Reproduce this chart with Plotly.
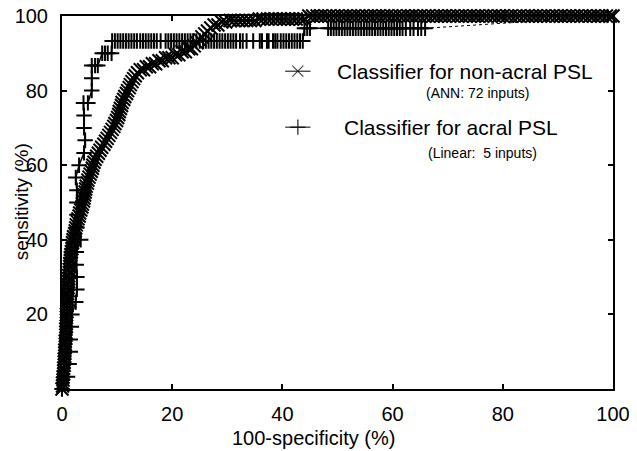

# ROC curves - classifier for non-acral PSL (ANN) vs acral PSL (linear)
# values, in percent
##############################################################

import plotly.graph_objects as go

# ANN classifier (non-acral), steep lower part
ann_fpr_low = [0.0, 0.1, 0.1, 0.2, 0.2, 0.3, 0.3, 0.3, 0.4, 0.4,
               0.4, 0.5, 0.5, 0.5, 0.6, 0.6, 0.6, 0.7, 0.7, 0.7,
               0.7, 0.8, 0.8, 0.8, 0.8, 0.8, 0.9, 0.9, 0.9, 0.9,
               1.0, 1.0, 1.0, 1.1, 1.1, 1.1, 1.2, 1.2, 1.2, 1.3,
               1.3, 1.4, 1.4, 1.5, 1.5, 1.6, 1.7, 1.8, 1.8, 1.9,
               2.0, 2.1, 2.3, 2.4, 2.5, 2.6, 2.8, 2.9, 3.1, 3.2,
               3.4, 3.6, 3.7, 3.9, 4.0, 4.1, 4.2, 4.3, 4.4, 4.6,
               4.7, 4.9, 5.1, 5.3]
ann_tpr_low = [0.0, 0.8, 1.6, 2.4, 3.2, 4.0, 4.8, 5.6, 6.4, 7.2,
               8.0, 8.8, 9.6, 10.4, 11.2, 12.0, 12.8, 13.6, 14.4, 15.2,
               16.0, 16.8, 17.6, 18.4, 19.2, 20.0, 20.8, 21.6, 22.4, 23.2,
               24.0, 24.8, 25.6, 26.4, 27.2, 28.0, 28.8, 29.6, 30.4, 31.2,
               32.0, 32.8, 33.6, 34.4, 35.2, 36.0, 36.8, 37.6, 38.4, 39.2,
               40.0, 40.8, 41.6, 42.4, 43.2, 44.0, 44.8, 45.6, 46.4, 47.2,
               48.0, 48.8, 49.6, 50.4, 51.2, 52.0, 52.8, 53.6, 54.4, 55.2,
               56.0, 56.8, 57.6, 58.4]

# ANN, the bend
ann_fpr_bend = [5.5, 5.6, 5.8, 6.0, 6.3, 6.6, 6.9, 7.2, 7.6, 7.9,
                8.2, 8.5, 8.8, 9.1, 9.4, 9.6, 9.9, 10.1, 10.3, 10.4,
                10.6, 10.8, 10.9, 11.2, 11.4, 11.7, 11.9, 12.2, 12.4, 12.7,
                13.0, 13.3, 13.7, 14.2, 14.8, 15.3, 15.9, 16.4, 17.0, 17.6,
                18.2, 18.8, 19.4, 20.0, 20.6, 21.2, 21.8, 22.4, 23.0, 23.5,
                24.0, 24.5, 25.0, 25.4, 25.9, 26.4, 27.0, 27.6, 28.3, 29.0,
                29.7]
ann_tpr_bend = [59.2, 60.0, 60.8, 61.6, 62.4, 63.2, 64.0, 64.8, 65.6, 66.4,
                67.2, 68.0, 68.8, 69.6, 70.4, 71.2, 72.0, 72.8, 73.6, 74.4,
                75.2, 76.0, 76.8, 77.6, 78.4, 79.2, 80.0, 80.8, 81.6, 82.4,
                83.2, 84.0, 84.8, 85.6, 85.6, 86.4, 86.4, 87.2, 87.2, 88.0,
                88.0, 88.8, 88.8, 88.8, 89.6, 89.6, 90.4, 90.4, 91.2, 91.2,
                92.0, 92.8, 93.6, 94.4, 95.2, 96.0, 96.8, 97.6, 97.6, 98.4,
                98.4]

# ANN, top run
ann_fpr_top = [30.5, 31.2, 32.0, 32.7, 33.5, 34.2, 35.0, 35.8, 36.5, 37.3,
               38.0, 38.8, 39.5, 40.3, 41.0, 41.8, 42.5, 43.3, 44.0,
               44.8, 45.5, 46.3, 47.0, 47.8, 48.5, 49.3, 50.0, 50.8, 51.5,
               52.3, 53.0, 53.8, 54.5, 55.3, 56.0, 56.8, 57.5, 58.3, 59.0,
               59.8, 60.5, 61.3, 62.0, 62.8, 63.5, 64.3, 65.0, 65.8, 66.5,
               67.3, 68.0, 68.8, 69.5, 70.3, 71.0, 71.8, 72.5, 73.3, 74.0,
               74.8, 75.5, 76.3, 77.0, 77.8, 78.5, 79.3, 80.0, 80.8, 81.5,
               82.3, 83.0, 83.8, 84.5, 85.3, 86.0, 86.8, 87.5, 88.3, 89.0,
               89.8, 90.5, 91.3, 92.0, 92.8, 93.5, 94.3, 95.0, 95.8, 96.5,
               97.3, 98.0, 98.8, 99.5, 100.0]
ann_tpr_top = [98.8, 98.8, 98.8, 98.8, 98.8, 98.8, 98.8, 99.2, 99.2, 99.2,
               99.2, 99.2, 99.2, 99.2, 99.2, 99.2, 99.2, 99.2, 99.2,
               100.0, 100.0, 100.0, 100.0, 100.0, 100.0, 100.0, 100.0, 100.0, 100.0,
               100.0, 100.0, 100.0, 100.0, 100.0, 100.0, 100.0, 100.0, 100.0, 100.0,
               100.0, 100.0, 100.0, 100.0, 100.0, 100.0, 100.0, 100.0, 100.0, 100.0,
               100.0, 100.0, 100.0, 100.0, 100.0, 100.0, 100.0, 100.0, 100.0, 100.0,
               100.0, 100.0, 100.0, 100.0, 100.0, 100.0, 100.0, 100.0, 100.0, 100.0,
               100.0, 100.0, 100.0, 100.0, 100.0, 100.0, 100.0, 100.0, 100.0, 100.0,
               100.0, 100.0, 100.0, 100.0, 100.0, 100.0, 100.0, 100.0, 100.0, 100.0,
               100.0, 100.0, 100.0, 100.0, 100.0]

# linear classifier (acral), 30 positives -> steps of 3.3 %
acral_fpr_low = [0.0, 1.0, 1.3, 1.5, 1.5, 1.7, 1.8, 2.5, 2.7, 2.7,
                 2.6, 2.6, 3.4, 2.7, 2.7, 2.7, 2.7, 2.5, 3.1, 4.0,
                 4.2, 4.0, 4.0, 3.9, 4.7, 5.4, 5.4, 5.4, 6.0, 6.5,
                 7.3, 7.8, 8.3, 9.0]
acral_tpr_low = [0.0, 3.3, 6.7, 10.0, 13.3, 16.7, 20.0, 23.3, 26.7, 30.0,
                 33.3, 36.7, 40.0, 43.3, 46.7, 50.0, 53.3, 56.7, 60.0, 63.3,
                 66.7, 70.0, 73.3, 76.7, 76.7, 80.0, 83.3, 86.7, 86.7, 86.7,
                 90.0, 90.0, 90.0, 90.0]
acral_fpr_93 = [9.1, 9.6, 10.1, 10.6, 11.1, 11.6, 12.1, 12.6, 13.1, 13.6,
                14.2, 14.7, 15.2, 15.7, 16.2, 16.7, 17.2, 17.9, 18.8, 19.3,
                19.8, 20.3, 20.8, 21.3, 21.8, 22.3, 22.8, 23.3, 23.8, 24.4,
                25.0, 25.6, 26.1, 26.6, 27.1, 27.6, 28.1, 28.6, 29.1, 29.6,
                30.1, 30.6, 31.1, 31.6, 32.3, 32.8, 33.5, 34.7, 35.9, 36.3,
                37.2, 37.5, 38.3, 38.7, 39.1, 39.7, 40.2, 40.7, 41.2, 41.7,
                42.2, 42.7, 43.2, 43.7]
acral_tpr_93 = [93.3, 93.3, 93.3, 93.3, 93.3, 93.3, 93.3, 93.3, 93.3, 93.3,
                93.3, 93.3, 93.3, 93.3, 93.3, 93.3, 93.3, 93.3, 93.3, 93.3,
                93.3, 93.3, 93.3, 93.3, 93.3, 93.3, 93.3, 93.3, 93.3, 93.3,
                93.3, 93.3, 93.3, 93.3, 93.3, 93.3, 93.3, 93.3, 93.3, 93.3,
                93.3, 93.3, 93.3, 93.3, 93.3, 93.3, 93.3, 93.3, 93.3, 93.3,
                93.3, 93.3, 93.3, 93.3, 93.3, 93.3, 93.3, 93.3, 93.3, 93.3,
                93.3, 93.3, 93.3, 93.3]
acral_fpr_97 = [44.0, 44.5, 45.0, 48.3, 48.8, 49.3, 49.8, 50.3, 50.8, 51.3,
                51.8, 52.3, 52.8, 53.3, 53.8, 54.3, 54.8, 55.3, 55.8, 56.3,
                56.8, 57.3, 57.8, 58.3, 58.8, 59.3, 59.8, 60.3, 60.8, 61.3,
                61.8, 62.4, 63.2, 63.8, 64.6, 65.2, 65.9,
                100.0]
acral_tpr_97 = [96.7, 96.7, 96.7, 96.7, 96.7, 96.7, 96.7, 96.7, 96.7, 96.7,
                96.7, 96.7, 96.7, 96.7, 96.7, 96.7, 96.7, 96.7, 96.7, 96.7,
                96.7, 96.7, 96.7, 96.7, 96.7, 96.7, 96.7, 96.7, 96.7, 96.7,
                96.7, 96.7, 96.7, 96.7, 96.7, 96.7, 96.7,
                100.0]

X_TICKS = [0, 20, 40, 60, 80, 100]
Y_TICKS = [20, 40, 60, 80, 100]

ann_fpr = ann_fpr_low + ann_fpr_bend + ann_fpr_top
ann_tpr = ann_tpr_low + ann_tpr_bend + ann_tpr_top
acral_fpr = acral_fpr_low + acral_fpr_93 + acral_fpr_97
acral_tpr = acral_tpr_low + acral_tpr_93 + acral_tpr_97
assert len(ann_fpr) == len(ann_tpr)
assert len(acral_fpr) == len(acral_tpr)

FONT = 'Liberation Sans, Arial, Helvetica, sans-serif'

fig = go.Figure()

# ANN curve, dense 'x' markers
fig.add_trace(go.Scatter(
    x=ann_fpr, y=ann_tpr,
    mode='lines+markers',
    line=dict(color='black', width=1.5),
    marker=dict(symbol='x-thin', size=13, color='black',
                line=dict(color='black', width=2)),
    cliponaxis=False,
    showlegend=False))

# acral curve, '+' markers (last point only joined by a thin dotted line)
fig.add_trace(go.Scatter(
    x=acral_fpr[:-1], y=acral_tpr[:-1],
    mode='lines+markers',
    line=dict(color='black', width=1.5),
    marker=dict(symbol='cross-thin', size=11, color='black',
                line=dict(color='black', width=2)),
    cliponaxis=False,
    showlegend=False))
fig.add_trace(go.Scatter(
    x=acral_fpr[-2:], y=acral_tpr[-2:],
    mode='lines',
    line=dict(color='black', width=1, dash='dot'),
    showlegend=False))

# hand made legend: samples on an overlay axis in 0..1 units
fig.add_trace(go.Scatter(
    x=[0.405, 0.428, 0.451], y=[0.852, 0.852, 0.852],
    xaxis='x2', yaxis='y2', mode='lines+markers',
    line=dict(color='black', width=1),
    marker=dict(symbol='x-thin', size=[0, 11, 0], color='black',
                line=dict(color='black', width=1.2)),
    showlegend=False))
fig.add_trace(go.Scatter(
    x=[0.405, 0.428, 0.451], y=[0.702, 0.702, 0.702],
    xaxis='x2', yaxis='y2', mode='lines+markers',
    line=dict(color='black', width=1),
    marker=dict(symbol='cross-thin', size=[0, 11, 0], color='black',
                line=dict(color='black', width=1.5)),
    showlegend=False))

legend_text = [
    ('Classifier for non-acral PSL', 0.4955, 0.852, 21),
    ('(ANN: 72 inputs)', 0.657, 0.794, 14),
    ('Classifier for acral PSL', 0.508, 0.700, 21),
    ('(Linear:\u00a0 5 inputs)', 0.660, 0.633, 14),
]
annotations = []
for txt, ax, ay, size in legend_text:
  annotations.append(dict(text=txt, x=ax, y=ay, xref='paper', yref='paper',
                          xanchor='left', yanchor='middle', showarrow=False,
                          font=dict(size=size, color='black', family=FONT)))

# axis titles
annotations.append(dict(text='100-specificity (%)', x=0.457, y=-0.131,
                        xref='paper', yref='paper', showarrow=False,
                        xanchor='center', yanchor='middle',
                        font=dict(size=20, color='black', family=FONT)))
annotations.append(dict(text='sensitivity (%)', x=-0.074, y=0.501,
                        xref='paper', yref='paper', showarrow=False,
                        textangle=-90, xanchor='center', yanchor='middle',
                        font=dict(size=19, color='black', family=FONT)))

axis_style = dict(showline=True, linecolor='black', linewidth=2,
                  mirror='ticks', ticks='inside', ticklen=5, tickwidth=1.5,
                  tickcolor='black', showgrid=False, zeroline=False,
                  automargin=False, ticklabeloverflow='allow',
                  tickfont=dict(size=20, color='black', family=FONT))

# page body adds 8px on top/left, so the figure is 8px smaller
fig.update_layout(
    width=629, height=443,
    margin=dict(l=54, r=24, t=8, b=62),
    paper_bgcolor='white', plot_bgcolor='white',
    font=dict(family=FONT, color='black'),
    xaxis=dict(range=[0, 100], tickvals=X_TICKS, ticklabelstandoff=6, **axis_style),
    yaxis=dict(range=[0, 100], tickvals=Y_TICKS, ticklabelstandoff=8, **axis_style),
    xaxis2=dict(range=[0, 1], overlaying='x', visible=False),
    yaxis2=dict(range=[0, 1], overlaying='y', visible=False),
    annotations=annotations,
    showlegend=False)

fig.write_html('out.html')
